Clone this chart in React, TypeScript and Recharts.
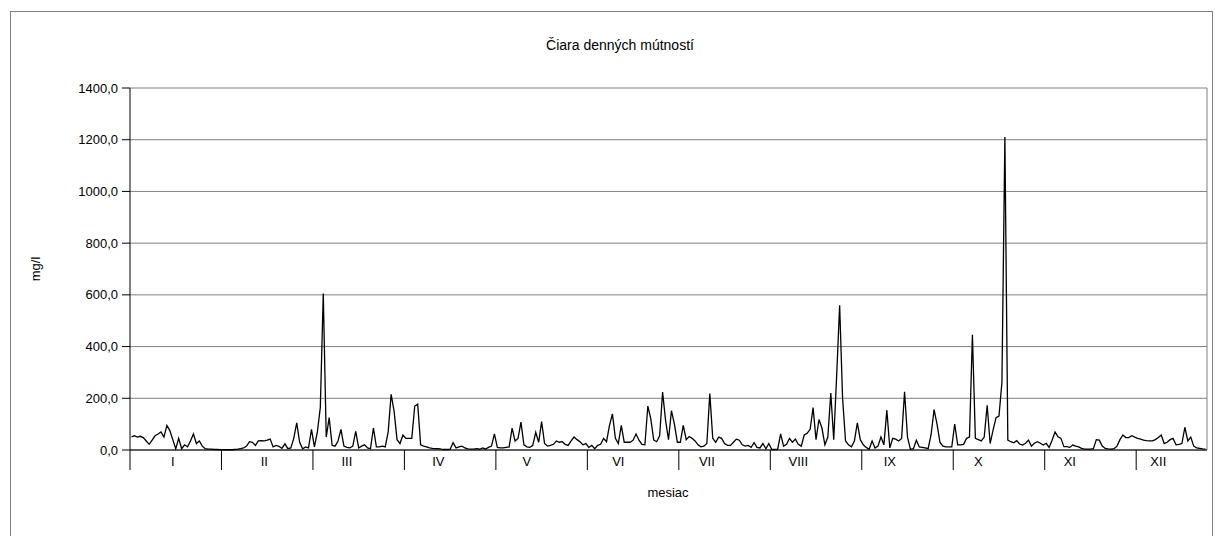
import React from 'react';
import { LineChart, Line, XAxis, YAxis, CartesianGrid, ReferenceLine } from 'recharts';

// Daily turbidity (mg/l), one array per month
const jan = [51, 55, 50, 53, 48, 35, 22, 38, 55, 62, 70, 50, 95, 75, 40, 5, 45, 5, 20, 12, 35, 62, 25, 35, 15, 5, 3, 3, 2, 2, 1];
const feb = [1, 1, 1, 1, 2, 3, 5, 8, 15, 32, 30, 18, 35, 36, 35, 38, 42, 12, 18, 14, 6, 24, 5, 8, 45, 105, 30, 5];
const mar = [12, 8, 80, 12, 70, 165, 605, 50, 125, 18, 15, 35, 80, 15, 10, 8, 15, 72, 8, 15, 20, 8, 5, 85, 12, 12, 15, 12, 70, 215, 150];
const apr = [40, 25, 58, 45, 45, 45, 170, 177, 20, 15, 12, 8, 6, 5, 5, 3, 2, 2, 3, 28, 8, 12, 15, 8, 4, 3, 3, 5, 3, 8];
const may = [4, 10, 15, 62, 10, 8, 8, 10, 12, 85, 35, 45, 108, 20, 12, 10, 18, 68, 30, 110, 25, 15, 18, 22, 35, 30, 32, 22, 18, 35, 50];
const jun = [40, 32, 20, 25, 10, 18, 5, 18, 22, 45, 32, 95, 140, 45, 25, 95, 30, 30, 30, 38, 62, 38, 22, 20, 170, 120, 38, 32, 55, 224];
const jul = [115, 40, 152, 100, 30, 30, 95, 40, 52, 45, 35, 20, 12, 15, 25, 218, 45, 30, 50, 45, 25, 18, 18, 30, 42, 38, 20, 15, 18, 10, 28];
const aug = [10, 8, 25, 5, 25, 2, 2, 3, 62, 15, 22, 45, 30, 42, 22, 15, 58, 65, 80, 164, 40, 118, 85, 20, 50, 220, 40, 290, 560, 200, 35];
const sep = [20, 12, 35, 105, 40, 20, 10, 3, 35, 8, 15, 50, 20, 154, 8, 45, 42, 35, 45, 225, 50, 2, 5, 38, 12, 10, 8, 5, 60, 156];
const oct = [100, 30, 15, 12, 12, 12, 100, 20, 20, 22, 45, 50, 446, 45, 40, 35, 50, 173, 25, 77, 125, 131, 262, 1210, 38, 32, 28, 36, 23, 19, 26];
const nov = [38, 15, 26, 32, 26, 19, 26, 10, 38, 70, 51, 45, 13, 13, 10, 19, 15, 12, 6, 3, 3, 3, 5, 40, 38, 15, 6, 4, 3, 5];
const dec = [15, 40, 58, 48, 48, 55, 50, 45, 42, 38, 36, 35, 35, 40, 48, 58, 25, 30, 40, 45, 20, 22, 25, 88, 35, 50, 15, 8, 6, 4, 3];

const months = [jan, feb, mar, apr, may, jun, jul, aug, sep, oct, nov, dec];
const monthLabels = ['I', 'II', 'III', 'IV', 'V', 'VI', 'VII', 'VIII', 'IX', 'X', 'XI', 'XII'];
const yTicks = [0, 200, 400, 600, 800, 1000, 1200, 1400];
const tickEvery = 31;

const turbidity: number[] = months.flat();
const data = turbidity.map((v, i) => ({ day: i + 0.5, value: v }));

const monthStarts: number[] = [];
months.reduce((acc, m) => {
  monthStarts.push(acc);
  return acc + m.length;
}, 0);
const labelDays = monthStarts.map((s) => s + 14.5);
const tickDays: number[] = [];
for (let d = 0; d < turbidity.length; d += tickEvery) tickDays.push(d);
const allXTicks = [...tickDays, ...labelDays].sort((a, b) => a - b);

const FONT = "'Liberation Sans', Arial, sans-serif";

const XTick = (props: any) => {
  const { x, y, payload } = props;
  const v = payload.value;
  const li = labelDays.indexOf(v);
  if (li >= 0) {
    return (
      <text x={x} y={y + 16} textAnchor="middle" fontSize={13} fill="#000" fontFamily={FONT}>
        {monthLabels[li]}
      </text>
    );
  }
  return <line x1={x} x2={x} y1={y} y2={y + 20} stroke="#000" strokeWidth={1} />;
};

const fmt = (v: number) => v.toFixed(1).replace('.', ',');

export default function App() {
  return (
    <div style={{ position: 'absolute', left: 0, top: 0, width: 1215, height: 536, background: '#fff' }}>
      <LineChart
        width={1215}
        height={536}
        data={data}
        margin={{ top: 88, right: 8, bottom: 56, left: 70 }}
      >
        <CartesianGrid horizontal vertical={false} stroke="#808080" strokeWidth={1} />
        <XAxis
          dataKey="day"
          type="number"
          domain={[0, 365]}
          ticks={allXTicks}
          interval={0}
          tick={<XTick />}
          tickLine={false}
          tickSize={0}
          tickMargin={0}
          height={30}
          axisLine={{ stroke: '#000' }}
        />
        <YAxis
          domain={[0, 1400]}
          ticks={yTicks}
          interval={0}
          tickFormatter={fmt}
          width={60}
          tickSize={8}
          tickMargin={4}
          tickLine={{ stroke: '#000' }}
          axisLine={{ stroke: '#000' }}
          tick={{ fontSize: 13, fill: '#000', fontFamily: FONT }}
        />
        <ReferenceLine x={365} stroke="#808080" />
        <Line
          type="linear"
          dataKey="value"
          stroke="#000"
          strokeWidth={1.3}
          dot={false}
          isAnimationActive={false}
        />
      </LineChart>
      <svg
        width={1215}
        height={536}
        style={{ position: 'absolute', left: 0, top: 0, pointerEvents: 'none' }}
      >
        <rect x={10.5} y={11.5} width={1202} height={600} fill="none" stroke="#808080" />
        <text x={620} y={50} textAnchor="middle" fontSize={14} fill="#000" fontFamily={FONT}>
          Čiara denných mútností
        </text>
        <text x={668} y={497} textAnchor="middle" fontSize={13} fill="#000" fontFamily={FONT}>
          mesiac
        </text>
        <text
          x={40}
          y={269}
          textAnchor="middle"
          fontSize={13}
          fill="#000"
          fontFamily={FONT}
          transform="rotate(-90 40 269)"
        >
          mg/l
        </text>
      </svg>
    </div>
  );
}
